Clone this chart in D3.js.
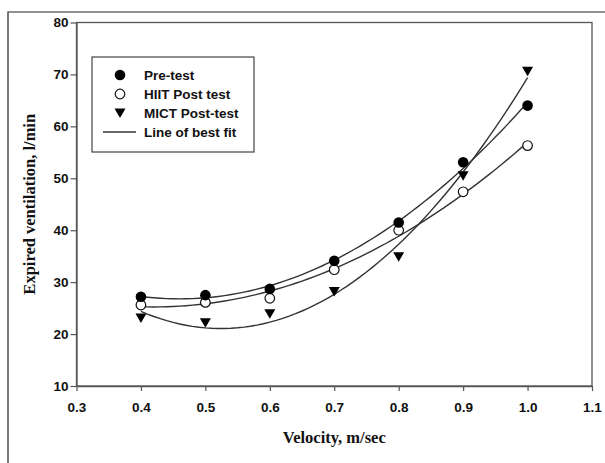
<!DOCTYPE html>
<html>
<head>
<meta charset="utf-8">
<script src="https://cdn.jsdelivr.net/npm/d3@7"></script>
<style>
  html, body { margin: 0; padding: 0; background: #fff; }
  svg { display: block; }
</style>
</head>
<body>
<div id="chart"></div>
<script>
// data
const velocity = [0.4, 0.5, 0.6, 0.7, 0.8, 0.9, 1.0];
const preTest = [27.2, 27.5, 28.7, 34.1, 41.5, 53.1, 64.0];
const hiitPost = [25.6, 26.1, 26.9, 32.4, 40.0, 47.4, 56.3];
const mictPost = [23.1, 22.2, 23.9, 28.2, 34.9, 50.5, 70.6];
const xTicks = [0.3, 0.4, 0.5, 0.6, 0.7, 0.8, 0.9, 1.0, 1.1];
const yTicks = [10, 20, 30, 40, 50, 60, 70, 80];
const legendLabels = ['Pre-test', 'HIIT Post test', 'MICT Post-test', 'Line of best fit'];

const width = 605, height = 463;
const margin = { top: 22.5, right: 13, bottom: 77, left: 76.5 };
const axisColor = '#555';

const svg = d3.select('#chart').append('svg')
    .attr('width', width)
    .attr('height', height);

// outer frame (right and bottom edges run off the page)
svg.append('path')
    .attr('d', `M8,${height + 2}V12H${width + 2}`)
    .attr('fill', 'none')
    .attr('stroke', '#222')
    .attr('stroke-width', 1.2);

const x = d3.scaleLinear().domain([0.3, 1.1]).range([margin.left, width - margin.right]);
const y = d3.scaleLinear().domain([10, 80]).range([height - margin.bottom, margin.top]);

// plot box
svg.append('rect')
    .attr('x', x(0.3)).attr('y', y(80))
    .attr('width', x(1.1) - x(0.3)).attr('height', y(10) - y(80))
    .attr('fill', 'none')
    .attr('stroke', axisColor)
    .attr('stroke-width', 1.3);

const xAxis = svg.append('g')
    .attr('transform', `translate(0,${y(10)})`)
    .call(d3.axisBottom(x).tickValues(xTicks).tickFormat(d3.format('.1f')).tickSize(5).tickSizeOuter(0));
const yAxis = svg.append('g')
    .attr('transform', `translate(${x(0.3)},0)`)
    .call(d3.axisLeft(y).tickValues(yTicks).tickSize(6).tickSizeOuter(0));

[xAxis, yAxis].forEach(g => {
    g.select('.domain').attr('stroke', axisColor).attr('stroke-width', 1.3);
    g.selectAll('.tick line').attr('stroke', axisColor).attr('stroke-width', 1.2);
    g.selectAll('.tick text')
        .attr('fill', '#111')
        .style('font-family', '"Liberation Sans", Arial, sans-serif')
        .style('font-weight', 'bold')
        .style('font-size', '13.5px');
});
xAxis.selectAll('.tick text').attr('dy', '1.35em');
yAxis.selectAll('.tick text').attr('x', -8);

// axis titles
svg.append('text')
    .attr('x', (x(0.3) + x(1.1)) / 2)
    .attr('y', 443)
    .attr('text-anchor', 'middle')
    .style('font-family', '"Liberation Serif", "Times New Roman", serif')
    .style('font-weight', 'bold')
    .style('font-size', '16.5px')
    .attr('fill', '#111')
    .text('Velocity, m/sec');

svg.append('text')
    .attr('transform', `translate(35,${(y(10) + y(80)) / 2}) rotate(-90)`)
    .attr('text-anchor', 'middle')
    .style('font-family', '"Liberation Serif", "Times New Roman", serif')
    .style('font-weight', 'bold')
    .style('font-size', '16.5px')
    .attr('fill', '#111')
    .text('Expired ventilation, l/min');

// quadratic least squares fit
function quadFit(xs, ys) {
    let s = [0, 0, 0, 0, 0], t = [0, 0, 0];
    xs.forEach((xv, i) => {
        for (let k = 0; k < 5; k++) s[k] += Math.pow(xv, k);
        for (let k = 0; k < 3; k++) t[k] += Math.pow(xv, k) * ys[i];
    });
    const A = [[s[0], s[1], s[2], t[0]], [s[1], s[2], s[3], t[1]], [s[2], s[3], s[4], t[2]]];
    for (let i = 0; i < 3; i++) {
        for (let j = i + 1; j < 3; j++) {
            const f = A[j][i] / A[i][i];
            for (let k = i; k < 4; k++) A[j][k] -= f * A[i][k];
        }
    }
    const c = [0, 0, 0];
    for (let i = 2; i >= 0; i--) {
        let v = A[i][3];
        for (let k = i + 1; k < 3; k++) v -= A[i][k] * c[k];
        c[i] = v / A[i][i];
    }
    return xv => c[0] + c[1] * xv + c[2] * xv * xv;
}

const line = d3.line().x(d => x(d[0])).y(d => y(d[1]));
const samples = d3.range(0, 61).map(i => 0.4 + i * 0.01);

[preTest, hiitPost, mictPost].forEach(series => {
    const f = quadFit(velocity, series);
    svg.append('path')
        .attr('d', line(samples.map(v => [v, f(v)])))
        .attr('fill', 'none')
        .attr('stroke', '#333')
        .attr('stroke-width', 1.4);
});

const triangle = 'M-5.5,-4.5L5.5,-4.5L0,5Z';

function drawMarker(g, type) {
    if (type === 'filled') {
        g.append('circle').attr('r', 5.3).attr('fill', '#000');
    } else if (type === 'open') {
        g.append('circle').attr('r', 4.8).attr('fill', '#fff').attr('stroke', '#111').attr('stroke-width', 1.2);
    } else {
        g.append('path').attr('d', triangle).attr('fill', '#000');
    }
}

const markerSets = [
    { data: mictPost, type: 'tri' },
    { data: hiitPost, type: 'open' },
    { data: preTest, type: 'filled' }
];

markerSets.forEach(set => {
    svg.append('g').selectAll('g')
        .data(velocity.map((v, i) => [v, set.data[i]]))
        .join('g')
        .attr('transform', d => `translate(${x(d[0])},${y(d[1])})`)
        .each(function () { drawMarker(d3.select(this), set.type); });
});

// legend
const legend = svg.append('g').attr('transform', 'translate(92,57)');
legend.append('rect')
    .attr('width', 162).attr('height', 95)
    .attr('fill', '#fff')
    .attr('stroke', '#444')
    .attr('stroke-width', 1.2);

const legendTypes = ['filled', 'open', 'tri', 'line'];
legendLabels.forEach((label, i) => {
    const row = legend.append('g').attr('transform', `translate(0,${18 + i * 19})`);
    if (legendTypes[i] === 'line') {
        row.append('line').attr('x1', 11).attr('x2', 44)
            .attr('stroke', '#333').attr('stroke-width', 1.4);
    } else {
        const m = row.append('g').attr('transform', 'translate(28,0)');
        drawMarker(m, legendTypes[i]);
    }
    row.append('text')
        .attr('x', 52)
        .attr('dy', '0.36em')
        .style('font-family', '"Liberation Sans", Arial, sans-serif')
        .style('font-weight', 'bold')
        .style('font-size', '13.5px')
        .attr('fill', '#111')
        .text(label);
});
</script>
</body>
</html>
